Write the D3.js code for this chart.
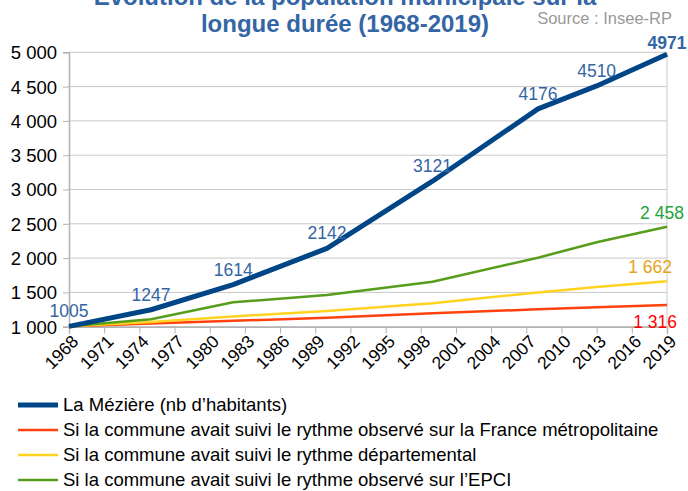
<!DOCTYPE html>
<html><head><meta charset="utf-8">
<script src="https://cdn.jsdelivr.net/npm/d3@7"></script>
<style>body{margin:0;background:#fff}svg{display:block;font-family:"Liberation Sans",Arial,sans-serif}</style>
</head><body><svg id="c" width="688" height="491"></svg>
<script>
const years = [1968, 1975, 1982, 1990, 1999, 2008, 2013, 2019];
const laMeziere = [1005, 1247, 1614, 2142, 3121, 4176, 4510, 4971];
const france = [1005, 1045, 1085, 1131, 1195, 1255, 1285, 1316];
const departement = [1005, 1070, 1150, 1229, 1341, 1500, 1580, 1662];
const epci = [1005, 1108, 1356, 1462, 1656, 2006, 2230, 2458];
const tickYears = [1968,1971,1974,1977,1980,1983,1986,1989,1992,1995,1998,2001,2004,2007,2010,2013,2016,2019];
const yTicks = [1000,1500,2000,2500,3000,3500,4000,4500,5000];
const seriesNames = ["La Mézière (nb d’habitants)","Si la commune avait suivi le rythme observé sur la France métropolitaine","Si la commune avait suivi le rythme départemental","Si la commune avait suivi le rythme observé sur l’EPCI"];

const FONT = "Liberation Sans, Arial, sans-serif";
const svg = d3.select("#c");
const x = d3.scaleLinear().domain([1968, 2019]).range([69, 667]);
const y = d3.scaleLinear().domain([1000, 5000]).range([326.7, 52.3]);
const fmtSp = v => String(v).replace(/\B(?=(\d{3})+(?!\d))/g, " ");

// grid
svg.append("g").selectAll("line").data(yTicks).join("line")
  .attr("x1", 69).attr("x2", 667).attr("y1", d=>y(d)).attr("y2", d=>y(d))
  .attr("stroke", "#c8c8c8").attr("stroke-width", 1);
svg.append("line").attr("x1",667).attr("x2",667).attr("y1",y(5000)).attr("y2",y(1000)).attr("stroke","#c8c8c8");

// y axis
const ya = svg.append("g").attr("transform","translate(69,0)")
  .call(d3.axisLeft(y).tickValues(yTicks).tickSize(6).tickFormat(fmtSp));
ya.select(".domain").attr("stroke","#b3b3b3").attr("stroke-width",1.5);
ya.selectAll(".tick line").attr("stroke","#b3b3b3");
ya.selectAll("text").attr("font-size",18.5).attr("fill","#000").attr("x",-12).attr("dy","0.35em").attr("font-family",FONT);

// x axis
const xa = svg.append("g").attr("transform","translate(0,326.7)")
  .call(d3.axisBottom(x).tickValues(tickYears).tickSize(7).tickFormat(d3.format("d")));
xa.select(".domain").attr("stroke","#b3b3b3").attr("stroke-width",1.5);
xa.selectAll(".tick line").attr("stroke","#b3b3b3");
xa.selectAll("text").attr("font-size",17.5).attr("fill","#000").attr("font-family",FONT)
  .attr("text-anchor","end").attr("dy",0).attr("y",0)
  .attr("transform","translate(10,16) rotate(-45)");

const series = [
  {vals: france, color:"#ff420e", w:2.5},
  {vals: departement, color:"#ffd320", w:2.5},
  {vals: epci, color:"#579d1c", w:2.5},
  {vals: laMeziere, color:"#004586", w:5}
];
const line = d3.line().x((d,i)=>x(years[i])).y(d=>y(d));
series.forEach(s=>{
  svg.append("path").datum(s.vals).attr("d", line).attr("fill","none")
    .attr("stroke", s.color).attr("stroke-width", s.w).attr("stroke-linejoin","round");
});

// data labels for La Mézière
const lab = svg.append("g").attr("font-size",17.5).attr("fill","#3465a4");
laMeziere.forEach((v,i)=>{
  const last = i === laMeziere.length-1;
  lab.append("text").attr("x", x(years[i])).attr("y", y(v) - (last?5:9))
    .attr("text-anchor","middle").attr("font-weight", last?"bold":"normal")
    .text(v);
});
// end labels
const n = years.length-1;
svg.append("text").attr("x", x(years[n])-5).attr("y", y(epci[n])-8).attr("text-anchor","middle")
  .attr("font-size",17.5).attr("fill","#1ea33a").text(fmtSp(epci[n]));
svg.append("text").attr("x", x(years[n])+5).attr("y", y(departement[n])-8).attr("text-anchor","end")
  .attr("font-size",17.5).attr("fill","#e8a31a").text(fmtSp(departement[n]));
svg.append("text").attr("x", x(years[n])+10).attr("y", y(france[n])+23).attr("text-anchor","end")
  .attr("font-size",17.5).attr("fill","#ff0000").text(fmtSp(france[n]));

// title
const t = svg.append("text").attr("text-anchor","middle").attr("font-weight","bold").attr("font-size",24).attr("fill","#3465a4");
t.append("tspan").attr("x",345).attr("y",5).text("Évolution de la population municipale sur la");
t.append("tspan").attr("x",345).attr("y",32).text("longue durée (1968-2019)");
svg.append("text").attr("x",672).attr("y",24).attr("text-anchor","end").attr("font-size",16.5).attr("fill","#999").text("Source : Insee-RP");

// legend
const colors = ["#004586","#ff420e","#ffd320","#579d1c"];
const widths = [5,2.5,2.5,2.5];
const lg = svg.append("g");
seriesNames.forEach((nm,i)=>{
  const yy = 405 + i*25;
  lg.append("line").attr("x1",18).attr("x2",58).attr("y1",yy).attr("y2",yy).attr("stroke",colors[i]).attr("stroke-width",widths[i]);
  lg.append("text").attr("x",63).attr("y",yy+6).attr("font-size",18.5).attr("fill","#000").text(nm);
});
</script></body></html>
